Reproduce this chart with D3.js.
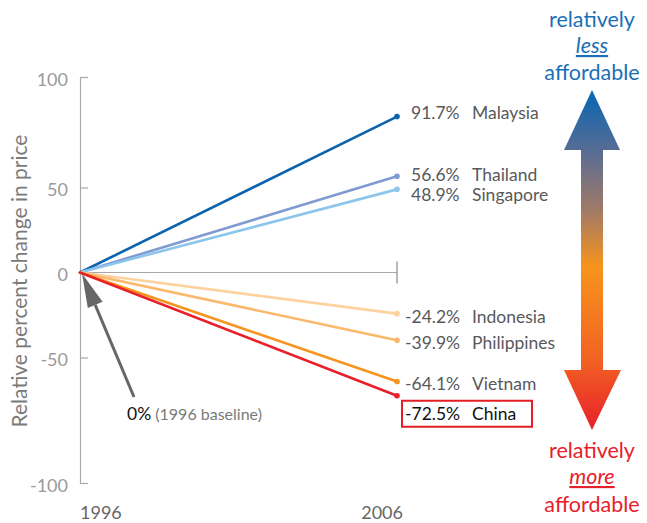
<!DOCTYPE html>
<html>
<head>
<meta charset="utf-8">
<script src="https://cdn.jsdelivr.net/npm/d3@7"></script>
<style>
  body { margin: 0; background: #fff; }
  svg { display: block; font-family: Lato, "Open Sans", sans-serif; }
</style>
</head>
<body>
<script>
// Data
const countries = ["Malaysia", "Thailand", "Singapore", "Indonesia", "Philippines", "Vietnam", "China"];
const change2006 = [91.7, 56.6, 48.9, -24.2, -39.9, -64.1, -72.5];
const years = [1996, 2006];
const yTicks = [-100, -50, 0, 50, 100];
const lineColors = ["#0b63ae", "#7f9bd2", "#8cc6ec", "#fdd29f", "#fbb86c", "#f7941e", "#e8202a"];

const width = 647;
const height = 523;

const svg = d3.select("body").append("svg")
  .attr("width", width)
  .attr("height", height);

const x = d3.scaleLinear().domain(years).range([80, 397]);
// data scale (linear)
const y = d3.scaleLinear().domain([0, 50]).range([272.5, 187.5]);
// axis scale: the outer ticks are stretched in the original
const yAxisScale = d3.scaleLinear()
  .domain([-100, -50, 0, 50, 100])
  .range([483, y(-50), y(0), y(50), 77]);

// plain hyphen for negatives, like the original
const fmtPct = v => v.toFixed(1) + "%";

// gradient for the double arrow
const defs = svg.append("defs");
const grad = defs.append("linearGradient")
  .attr("id", "afford")
  .attr("x1", 0).attr("y1", 0).attr("x2", 0).attr("y2", 1);
[[0, "#0566b3"], [0.18, "#586c93"], [0.35, "#9f7a68"], [0.52, "#f7941d"], [0.78, "#f26522"], [1, "#e8202a"]]
  .forEach(([o, c]) => grad.append("stop").attr("offset", o).attr("stop-color", c));

// y axis
const yAxis = svg.append("g")
  .attr("transform", `translate(${x(1996)},0)`)
  .call(d3.axisLeft(yAxisScale)
    .tickValues(yTicks)
    .tickFormat(d => String(d))
    .tickSizeInner(-8).tickSizeOuter(0).tickPadding(12));
yAxis.select(".domain").attr("stroke", "#a8a8a8").attr("stroke-width", 1.2);
yAxis.selectAll(".tick line").attr("stroke", "#a8a8a8").attr("stroke-width", 1.2)
  .filter(d => d === 0).remove();
yAxis.selectAll(".tick text")
  .attr("fill", "#9a9a9a")
  .attr("font-size", 18)
  .attr("font-family", "Lato, sans-serif")
  .attr("dy", "0.45em");

// zero line with end tick
svg.append("line")
  .attr("x1", x(1996)).attr("x2", x(2006))
  .attr("y1", y(0)).attr("y2", y(0))
  .attr("stroke", "#a8a8a8").attr("stroke-width", 1.2);
svg.append("line")
  .attr("x1", x(2006)).attr("x2", x(2006))
  .attr("y1", y(0) - 11).attr("y2", y(0) + 11)
  .attr("stroke", "#8a8a8a").attr("stroke-width", 1.2);

// x labels
svg.append("text")
  .attr("x", x(1996)).attr("y", 519)
  .attr("fill", "#666").attr("font-size", 18)
  .text(years[0]);
svg.append("text")
  .attr("x", x(2006) + 6).attr("y", 519)
  .attr("text-anchor", "end")
  .attr("fill", "#666").attr("font-size", 18)
  .text(years[1]);

// y axis title
svg.append("text")
  .attr("transform", `translate(27,${281}) rotate(-90)`)
  .attr("text-anchor", "middle")
  .attr("fill", "#7a7a7a")
  .attr("font-size", 21)
  .text("Relative percent change in price");

// lines
const rows = countries.map((c, i) => ({ name: c, value: change2006[i], color: lineColors[i] }));

svg.append("g").selectAll("line")
  .data(rows)
  .join("line")
  .attr("x1", x(1996)).attr("y1", y(0))
  .attr("x2", x(2006)).attr("y2", d => y(d.value))
  .attr("stroke", d => d.color)
  .attr("stroke-width", 2.6)
  .attr("stroke-linecap", "round");

svg.append("g").selectAll("circle")
  .data(rows)
  .join("circle")
  .attr("cx", x(2006)).attr("cy", d => y(d.value))
  .attr("r", 2.8)
  .attr("fill", d => d.color);

// label nudges (pixels) to keep labels apart
const labelNudge = { Malaysia: -4, Thailand: -2, Singapore: 5, Indonesia: 3, Philippines: 2, Vietnam: 2, China: 18 };

const labels = svg.append("g").selectAll("g")
  .data(rows)
  .join("g")
  .attr("transform", d => `translate(0,${y(d.value) + labelNudge[d.name]})`);

labels.append("text")
  .attr("x", d => d.value < 0 ? 405 : 411)
  .attr("dy", "0.36em")
  .attr("font-size", 17.5)
  .attr("fill", d => d.name === "China" ? "#111" : "#58595b")
  .text(d => fmtPct(d.value));

labels.append("text")
  .attr("x", 472)
  .attr("dy", "0.36em")
  .attr("font-size", 17.5)
  .attr("fill", d => d.name === "China" ? "#111" : "#58595b")
  .text(d => d.name);

// highlight box for China
labels.filter(d => d.name === "China")
  .append("rect")
  .attr("x", 402).attr("y", -13)
  .attr("width", 130).attr("height", 26)
  .attr("fill", "none")
  .attr("stroke", "#e31e24")
  .attr("stroke-width", 2);

// baseline annotation arrow
const tip = [x(1996) + 2, y(0) + 1];
const tail = [134, 397];
const ang = Math.atan2(tail[1] - tip[1], tail[0] - tip[0]);
const headLen = 34, headHalf = 8;
const hb = [tip[0] + headLen * Math.cos(ang), tip[1] + headLen * Math.sin(ang)];
const px = -Math.sin(ang), py = Math.cos(ang);
svg.append("line")
  .attr("x1", hb[0]).attr("y1", hb[1])
  .attr("x2", tail[0]).attr("y2", tail[1])
  .attr("stroke", "#676767").attr("stroke-width", 3);
svg.append("polygon")
  .attr("points", [tip, [hb[0] + px * headHalf, hb[1] + py * headHalf], [hb[0] - px * headHalf, hb[1] - py * headHalf]].map(p => p.join(",")).join(" "))
  .attr("fill", "#676767");

const base = svg.append("text").attr("x", 127).attr("y", 420);
base.append("tspan").attr("font-size", 17.5).attr("fill", "#111").text("0%");
base.append("tspan").attr("font-size", 16).attr("fill", "#7a7a7a").text(" (1996 baseline)");

// double gradient arrow
const ax = 592;
const arrowPts = [
  [ax, 90], [ax + 28, 150], [ax + 11, 150], [ax + 11, 370], [ax + 29, 370],
  [ax, 430], [ax - 28, 370], [ax - 11, 370], [ax - 11, 150], [ax - 28, 150]
];
svg.append("polygon")
  .attr("points", arrowPts.map(p => p.join(",")).join(" "))
  .attr("fill", "url(#afford)");

function affordText(lines, color, ys) {
  const g = svg.append("g").attr("fill", color).attr("font-size", 21.5).attr("text-anchor", "middle");
  lines.forEach((t, i) => {
    const el = g.append("text").attr("x", ax).attr("y", ys[i]).text(t);
    if (i === 1) el.attr("font-style", "italic").attr("text-decoration", "underline");
  });
}
affordText(["relatively", "less", "affordable"], "#1a6fb6", [27, 53, 80]);
affordText(["relatively", "more", "affordable"], "#e8202a", [458, 484, 512]);
</script>
</body>
</html>
